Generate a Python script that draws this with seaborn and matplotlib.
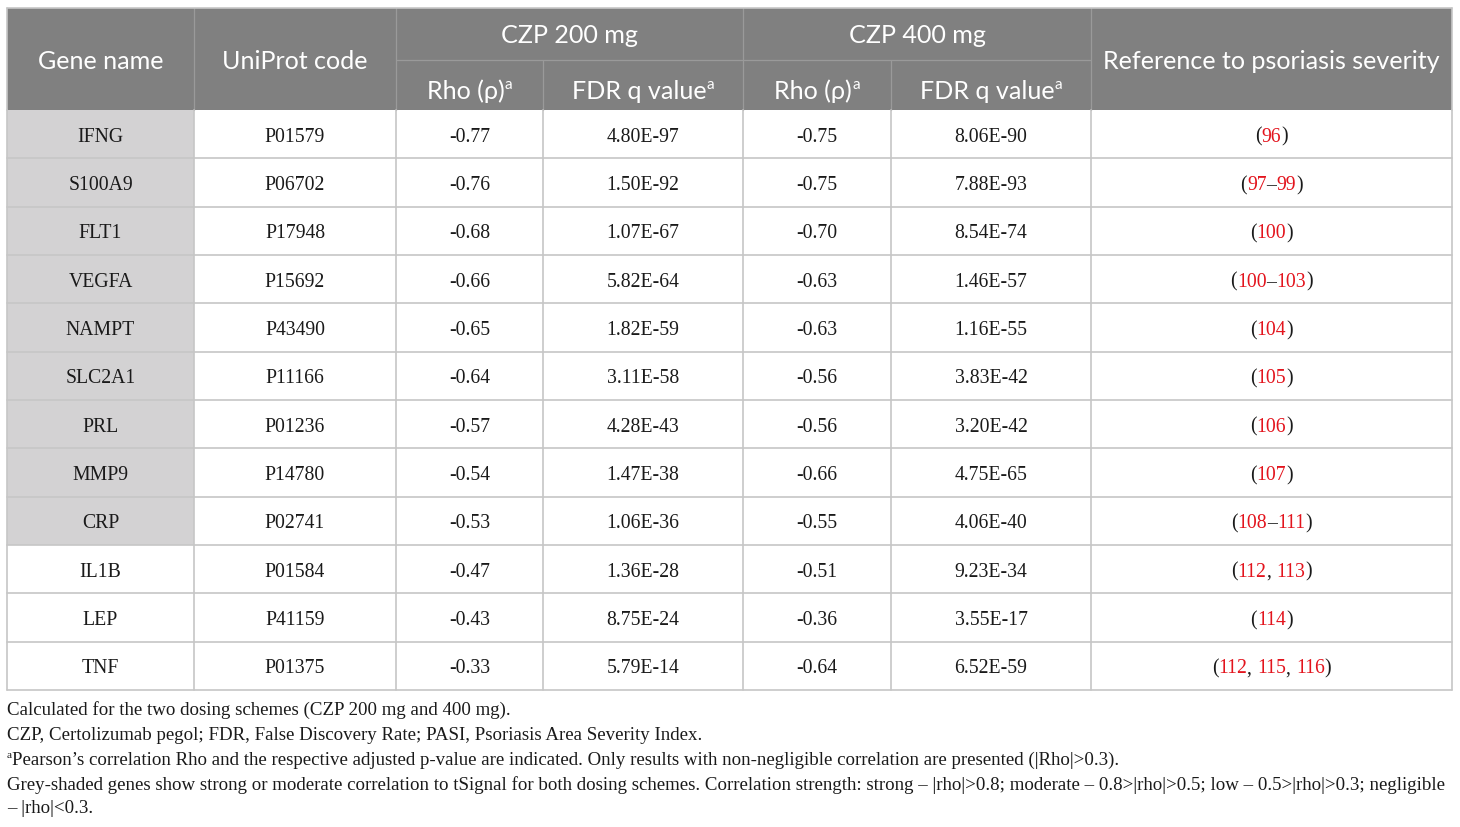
"""
Table: correlation of gene expression with psoriasis severity (CZP 200 / 400 mg).
Drawn as a figure-wide axes in pixel units.
"""

import re
import matplotlib
matplotlib.use("Agg")
import matplotlib.pyplot as plt
from matplotlib.patches import Rectangle
import seaborn as sns

# ── Data ──────────────────────────────────────────────────────────────────────
genes = ["IFNG", "S100A9", "FLT1", "VEGFA", "NAMPT", "SLC2A1",
         "PRL", "MMP9", "CRP", "IL1B", "LEP", "TNF"]
uniprot = ["P01579", "P06702", "P17948", "P15692", "P43490", "P11166",
           "P01236", "P14780", "P02741", "P01584", "P41159", "P01375"]
rho_200 = ["-0.77", "-0.76", "-0.68", "-0.66", "-0.65", "-0.64",
           "-0.57", "-0.54", "-0.53", "-0.47", "-0.43", "-0.33"]
fdr_200 = ["4.80E-97", "1.50E-92", "1.07E-67", "5.82E-64", "1.82E-59", "3.11E-58",
           "4.28E-43", "1.47E-38", "1.06E-36", "1.36E-28", "8.75E-24", "5.79E-14"]
rho_400 = ["-0.75", "-0.75", "-0.70", "-0.63", "-0.63", "-0.56",
           "-0.56", "-0.66", "-0.55", "-0.51", "-0.36", "-0.64"]
fdr_400 = ["8.06E-90", "7.88E-93", "8.54E-74", "1.46E-57", "1.16E-55", "3.83E-42",
           "3.20E-42", "4.75E-65", "4.06E-40", "9.23E-34", "3.55E-17", "6.52E-59"]
refs = ["(96)", "(97\u201399)", "(100)", "(100\u2013103)", "(104)", "(105)",
        "(106)", "(107)", "(108\u2013111)", "(112, 113)", "(114)", "(112, 115, 116)"]
shaded = [True] * 9 + [False] * 3

footnotes = [
    "Calculated for the two dosing schemes (CZP 200 mg and 400 mg).",
    "CZP, Certolizumab pegol; FDR, False Discovery Rate; PASI, Psoriasis Area Severity Index.",
    "Pearson\u2019s correlation Rho and the respective adjusted p-value are indicated. "
    "Only results with non-negligible correlation are presented (|Rho|>0.3).",
    "Grey-shaded genes show strong or moderate correlation to tSignal for both dosing schemes. "
    "Correlation strength: strong \u2013 |rho|>0.8; moderate \u2013 0.8>|rho|>0.5; "
    "low \u2013 0.5>|rho|>0.3; negligible",
    "\u2013 |rho|<0.3.",
]

# ── Layout ────────────────────────────────────────────────────────────────────
W, H = 1460, 827
col_edges = [7, 194, 396, 543, 743, 891, 1091, 1452]
head_top, head_mid, head_bot = 8, 60, 110
body_bot = 690
n_rows = len(genes)
row_h = (body_bot - head_bot) / n_rows

HEAD_BG = "#808080"
SHADE = "#d3d2d3"
GRID = "#c6c6c6"
RED = "#e3141d"
INK = "#1a1a1a"
SERIF = ["Liberation Serif", "DejaVu Serif"]
SANS = ["Lato", "DejaVu Sans"]

sns.set_theme(style="white")
plt.rcParams["font.family"] = SERIF

fig = plt.figure(figsize=(W / 100, H / 100), dpi=100)
ax = fig.add_axes([0, 0, 1, 1])
ax.set_xlim(0, W)
ax.set_ylim(H, 0)
ax.axis("off")
renderer = fig.canvas.get_renderer()


def width_of(t):
    return t.get_window_extent(renderer).width


def fit_size(txt, target, **kw):
    probe = ax.text(0, 0, txt, fontsize=10, **kw)
    size = 10 * target / width_of(probe)
    probe.remove()
    return size


def pieces(x, y, parts, ha="center", **kw):
    """Draw a sequence of (text, color, size, dy) parts centred on x at baseline y."""
    objs = []
    for txt, color, size, dy in parts:
        objs.append(ax.text(0, y + dy, txt, color=color, fontsize=size,
                            va="baseline", ha="left", **kw))
    widths = [width_of(o) for o in objs]
    total = sum(widths)
    cur = x - total / 2 if ha == "center" else x
    for o, w in zip(objs, widths):
        o.set_x(cur)
        cur += w


def cx(i):
    return (col_edges[i] + col_edges[i + 1]) / 2


# ── Header ────────────────────────────────────────────────────────────────────
ax.add_patch(Rectangle((col_edges[0], head_top), col_edges[-1] - col_edges[0],
                       head_bot - head_top, facecolor=HEAD_BG, edgecolor="none"))
HFS = fit_size("Gene name", 126, family=SANS)
hkw = dict(color="white", fontsize=HFS, family=SANS, ha="center", va="baseline")

ax.text(cx(0), 69, "Gene name", **hkw)
ax.text(cx(1), 69, "UniProt code", **hkw)
ax.text(cx(6), 69, "Reference to psoriasis severity", **hkw)
ax.text((col_edges[2] + col_edges[4]) / 2, 43, "CZP 200 mg", **hkw)
ax.text((col_edges[4] + col_edges[6]) / 2, 43, "CZP 400 mg", **hkw)
for i, lab in zip([2, 3, 4, 5], ["Rho (\u03c1)", "FDR q value", "Rho (\u03c1)", "FDR q value"]):
    pieces(cx(i), 99, [(lab, "white", HFS, 0), ("a", "white", HFS * 0.6, -10)], family=SANS)

# header inner lines
hl = dict(color="#9a9a9a", lw=0.9)
for e in col_edges[1:-1]:
    top = head_mid if e in (col_edges[3], col_edges[5]) else head_top
    ax.plot([e, e], [top, head_bot], **hl)
ax.plot([col_edges[2], col_edges[6]], [head_mid, head_mid], **hl)

# ── Body ──────────────────────────────────────────────────────────────────────
BFS = 14.2
columns = [genes, uniprot, rho_200, fdr_200, rho_400, fdr_400]
for r in range(n_rows):
    y0 = head_bot + r * row_h
    if shaded[r]:
        ax.add_patch(Rectangle((col_edges[0], y0), col_edges[1] - col_edges[0], row_h,
                               facecolor=SHADE, edgecolor="none"))
    base = y0 + row_h / 2 + 7.5
    for c, col in enumerate(columns):
        ax.text(cx(c), base, col[r], fontsize=BFS, color=INK,
                ha="center", va="baseline")
    parts = [(p, RED if p.isdigit() else INK, BFS, 0)
             for p in re.split(r"(\d+)", refs[r]) if p]
    pieces(cx(6), base, parts)

# body grid
gl = dict(color=GRID, lw=1.2)
for r in range(1, n_rows + 1):
    y = head_bot + r * row_h
    ax.plot([col_edges[0], col_edges[-1]], [y, y], **gl)
for e in col_edges:
    ax.plot([e, e], [head_bot, body_bot], **gl)
ax.plot([col_edges[0], col_edges[-1]], [head_top, head_top], **gl)
for e in (col_edges[0], col_edges[-1]):
    ax.plot([e, e], [head_top, head_bot], **gl)

# ── Footnotes ─────────────────────────────────────────────────────────────────
# fit the long line to the table width
FFS = fit_size(footnotes[3], col_edges[-1] - col_edges[0] - 12)

fy = [715, 740, 765, 790, 813]
for i, (txt, y) in enumerate(zip(footnotes, fy)):
    if i == 2:
        pieces(col_edges[0], y, [("a", INK, FFS * 0.6, -7), (txt, INK, FFS, 0)], ha="left")
    else:
        ax.text(col_edges[0], y, txt, fontsize=FFS, color=INK, ha="left", va="baseline")

fig.savefig("out.png", dpi=100)
